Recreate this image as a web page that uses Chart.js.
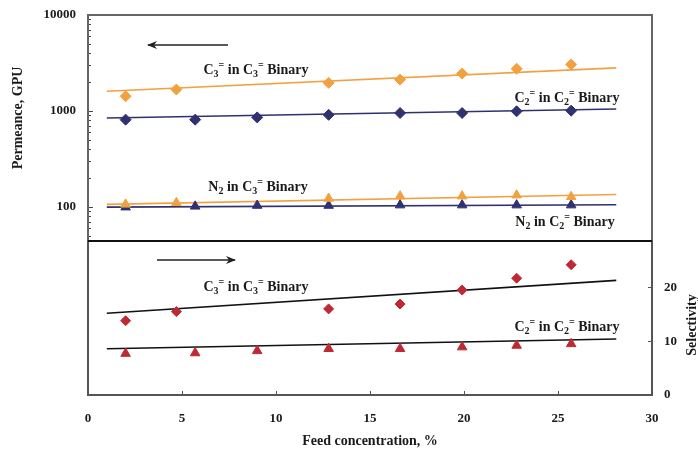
<!DOCTYPE html>
<html>
<head>
<meta charset="utf-8">
<script src="https://cdn.jsdelivr.net/npm/chart.js@4.4.1/dist/chart.umd.min.js"></script>
<style>
  html, body { margin: 0; padding: 0; background: #fff; }
  #wrap { position: relative; width: 698px; height: 450px; background: #fff; }
  #wrap canvas { position: absolute; left: 0; }
  #top { top: 0; }
  #bot { top: 240px; }
</style>
</head>
<body>
<div id="wrap">
  <canvas id="top" width="698" height="240"></canvas>
  <canvas id="bot" width="698" height="210"></canvas>
</div>
<script>
// ---------- data ----------
const xC3 = [2, 4.7, 12.8, 16.6, 19.9, 22.8, 25.7];           // C3= binary feed concentrations
const xC2 = [2, 5.7, 9, 12.8, 16.6, 19.9, 22.8, 25.7];         // C2= binary feed concentrations
const permC3 = [1420, 1670, 1960, 2120, 2450, 2750, 3050];     // C3= permeance in C3= binary
const permC2 = [810, 810, 855, 910, 950, 950, 990, 1005];      // C2= permeance in C2= binary
const permN2inC3 = [106, 110, 122, 129, 129, 132, 127];        // N2 permeance in C3= binary
const permN2inC2 = [99, 101, 103, 103, 104, 104, 104, 104];    // N2 permeance in C2= binary
const selC3 = [13.8, 15.5, 16.0, 16.9, 19.5, 21.7, 24.2];      // selectivity C3=/N2
const selC2 = [7.7, 7.8, 8.2, 8.6, 8.6, 8.9, 9.2, 9.5];        // selectivity C2=/N2
const fitX = [1, 28.1];                                        // trend line ends
const fitPermC3 = [1600, 2810];
const fitPermC2 = [843, 1047];
const fitN2inC3 = [106, 134];
const fitN2inC2 = [99, 105];
const fitSelC3 = [15.2, 21.3];
const fitSelC2 = [8.6, 10.4];
const xTicks = [0, 5, 10, 15, 20, 25, 30];
const permTicks = [100, 1000, 10000];
const selTicks = [0, 10, 20];

// ---------- styles ----------
const ORANGE = '#F2A141';
const NAVY = '#2F3170';
const RED = '#BE2A33';
const SERIF = '"Liberation Serif", "Times New Roman", serif';

const pts = (xs, ys) => xs.map((x, i) => ({ x: x, y: ys[i] }));

function markerSet(xs, ys, color, style, r) {
  return { data: pts(xs, ys), showLine: false, pointStyle: style, pointRadius: r,
           pointBackgroundColor: color, pointBorderColor: color, pointBorderWidth: 1, order: 1 };
}
function lineSet(ys, color) {
  return { data: pts(fitX, ys), showLine: true, borderColor: color, borderWidth: 1.6,
           pointRadius: 0, fill: false, order: 2 };
}

// rich text: parts = [[text, 'sub'|'sup'|undefined], ...]
function drawRich(ctx, parts, cx, cy, size) {
  const fontN = 'bold ' + size + 'px ' + SERIF;
  const fontS = 'bold ' + Math.round(size * 0.68) + 'px ' + SERIF;
  let total = 0;
  parts.forEach(p => { ctx.font = p[1] ? fontS : fontN; total += ctx.measureText(p[0]).width; });
  let x = cx - total / 2;
  ctx.textBaseline = 'middle';
  ctx.textAlign = 'left';
  ctx.fillStyle = '#1a1a1a';
  parts.forEach(p => {
    ctx.font = p[1] ? fontS : fontN;
    let dy = 0;
    if (p[1] === 'sub') dy = size * 0.3;
    if (p[1] === 'sup') dy = -size * 0.32;
    ctx.fillText(p[0], x, cy + dy);
    x += ctx.measureText(p[0]).width;
  });
}
const lbl = (a, b, c) => [[a], [b, 'sub'], ['=', 'sup'], [' in C'], [c, 'sub'], ['=', 'sup'], [' Binary']];
const lblN2 = (c) => [['N'], ['2', 'sub'], [' in C'], [c, 'sub'], ['=', 'sup'], [' Binary']];

function arrow(ctx, x1, x2, y) {
  ctx.save();
  ctx.strokeStyle = '#222'; ctx.fillStyle = '#222'; ctx.lineWidth = 1.5;
  ctx.beginPath(); ctx.moveTo(x1, y); ctx.lineTo(x2, y); ctx.stroke();
  const d = x2 > x1 ? 1 : -1;
  ctx.beginPath();
  ctx.moveTo(x2 + d * 1, y);
  ctx.lineTo(x2 - d * 9, y - 4);
  ctx.lineTo(x2 - d * 6, y);
  ctx.lineTo(x2 - d * 9, y + 4);
  ctx.closePath(); ctx.fill();
  ctx.restore();
}

function vText(ctx, text, x, y, size) {
  ctx.save();
  ctx.translate(x, y);
  ctx.rotate(-Math.PI / 2);
  ctx.font = 'bold ' + size + 'px ' + SERIF;
  ctx.textAlign = 'center'; ctx.textBaseline = 'middle'; ctx.fillStyle = '#1a1a1a';
  ctx.fillText(text, 0, 0);
  ctx.restore();
}

const TICK_FONT = { family: SERIF, size: 13, weight: 'bold' };
const TITLE_FONT = { family: SERIF, size: 14, weight: 'bold' };
const ANNO = 14;

// ---------- upper chart: permeance (log) ----------
const topPlugin = {
  id: 'topDeco',
  beforeDatasetsDraw(chart) {
    const ctx = chart.ctx, a = chart.chartArea, y = chart.scales.y;
    ctx.save();
    ctx.strokeStyle = '#444'; ctx.lineWidth = 1;
    [10, 100, 1000].forEach(d => {
      for (let k = 1; k <= 9; k++) {
        const v = d * k;
        if (v < y.min || v > y.max) continue;
        const py = Math.round(y.getPixelForValue(v)) + 0.5;
        const len = (k === 1) ? 5 : 3;
        ctx.beginPath(); ctx.moveTo(a.left, py); ctx.lineTo(a.left + len, py); ctx.stroke();
      }
    });
    const p = Math.round(y.getPixelForValue(10000)) + 0.5;
    ctx.beginPath(); ctx.moveTo(a.left, p); ctx.lineTo(a.left + 5, p); ctx.stroke();
    ctx.restore();
  },
  afterDraw(chart) {
    const ctx = chart.ctx, a = chart.chartArea;
    ctx.save();
    ctx.strokeStyle = '#666'; ctx.lineWidth = 2;
    ctx.strokeRect(a.left, a.top, a.right - a.left, a.bottom - a.top + 1);
    drawRich(ctx, lbl('C', '3', '3'), 256, 70, ANNO);
    drawRich(ctx, lbl('C', '2', '2'), 567, 98, ANNO);
    drawRich(ctx, lblN2('3'), 258, 187, ANNO);
    drawRich(ctx, lblN2('2'), 565, 222, ANNO);
    arrow(ctx, 228, 148, 45);
    vText(ctx, 'Permeance, GPU', 18, 118, 14);
    ctx.restore();
  }
};

new Chart(document.getElementById('top'), {
  type: 'scatter',
  data: {
    datasets: [
      lineSet(fitPermC3, ORANGE),
      lineSet(fitPermC2, NAVY),
      lineSet(fitN2inC3, ORANGE),
      lineSet(fitN2inC2, NAVY),
      markerSet(xC3, permC3, ORANGE, 'rectRot', 5.5),
      markerSet(xC2, permC2, NAVY, 'rectRot', 5.5),
      markerSet(xC3, permN2inC3, ORANGE, 'triangle', 5.5),
      markerSet(xC2, permN2inC2, NAVY, 'triangle', 5.5)
    ]
  },
  options: {
    responsive: false, animation: false, devicePixelRatio: 1,
    layout: { autoPadding: false, padding: { top: 15, right: 46, left: 0, bottom: 0 } },
    plugins: { legend: { display: false }, tooltip: { enabled: false } },
    scales: {
      x: { type: 'linear', min: 0, max: 30, display: false },
      y: {
        type: 'logarithmic', min: 45, max: 10000, position: 'left',
        afterFit: s => { s.width = 88; s.paddingTop = 0; s.paddingBottom = 0; },
        afterBuildTicks: s => { s.ticks = permTicks.map(v => ({ value: v })); },
        grid: { drawOnChartArea: false, drawTicks: false },
        border: { display: false },
        ticks: { color: '#1a1a1a', padding: 12, font: TICK_FONT, callback: v => String(v) },
        title: { display: false }
      }
    }
  },
  plugins: [topPlugin]
});

// ---------- lower chart: selectivity ----------
const botPlugin = {
  id: 'botDeco',
  afterDraw(chart) {
    const ctx = chart.ctx, a = chart.chartArea, x = chart.scales.x, y = chart.scales.y;
    ctx.save();
    ctx.strokeStyle = '#555'; ctx.lineWidth = 1;
    xTicks.slice(1, -1).forEach(v => {
      const px = Math.round(x.getPixelForValue(v)) + 0.5;
      ctx.beginPath(); ctx.moveTo(px, a.bottom); ctx.lineTo(px, a.bottom - 4); ctx.stroke();
    });
    selTicks.slice(1).forEach(v => {
      const py = Math.round(y.getPixelForValue(v)) + 0.5;
      ctx.beginPath(); ctx.moveTo(a.right, py); ctx.lineTo(a.right - 4, py); ctx.stroke();
    });
    ctx.lineWidth = 2; ctx.strokeStyle = '#555';
    ctx.beginPath();
    ctx.moveTo(a.left, a.top); ctx.lineTo(a.left, a.bottom); ctx.lineTo(a.right, a.bottom); ctx.lineTo(a.right, a.top);
    ctx.stroke();
    ctx.strokeStyle = '#111';
    ctx.beginPath(); ctx.moveTo(a.left, a.top + 1); ctx.lineTo(a.right, a.top + 1); ctx.stroke();
    drawRich(ctx, lbl('C', '3', '3'), 256, 47, ANNO);
    drawRich(ctx, lbl('C', '2', '2'), 567, 87, ANNO);
    arrow(ctx, 157, 235, 20);
    vText(ctx, 'Selectivity', 692, 85, 14);
    ctx.restore();
  }
};

new Chart(document.getElementById('bot'), {
  type: 'scatter',
  data: {
    datasets: [
      lineSet(fitSelC3, '#111'),
      lineSet(fitSelC2, '#111'),
      markerSet(xC3, selC3, RED, 'rectRot', 5),
      markerSet(xC2, selC2, RED, 'triangle', 5.5)
    ]
  },
  options: {
    responsive: false, animation: false, devicePixelRatio: 1,
    layout: { autoPadding: false, padding: { top: 0, right: 0, left: 88, bottom: 0 } },
    plugins: { legend: { display: false }, tooltip: { enabled: false } },
    scales: {
      x: {
        type: 'linear', min: 0, max: 30, position: 'bottom',
        afterFit: s => { s.height = 55; s.paddingLeft = 0; s.paddingRight = 0; },
        afterBuildTicks: s => { s.ticks = xTicks.map(v => ({ value: v })); },
        grid: { drawOnChartArea: false, drawTicks: false },
        border: { display: false },
        ticks: { color: '#1a1a1a', padding: 16, maxRotation: 0, font: TICK_FONT },
        title: { display: true, text: 'Feed concentration, %', color: '#1a1a1a',
                 font: TITLE_FONT, padding: { top: 0, bottom: 0 } }
      },
      y: {
        type: 'linear', min: 0, max: 28.8, position: 'right',
        afterFit: s => { s.width = 46; s.paddingTop = 0; s.paddingBottom = 0; },
        afterBuildTicks: s => { s.ticks = selTicks.map(v => ({ value: v })); },
        grid: { drawOnChartArea: false, drawTicks: false },
        border: { display: false },
        ticks: { color: '#1a1a1a', padding: 12, font: TICK_FONT }
      }
    }
  },
  plugins: [botPlugin]
});
</script>
</body>
</html>
